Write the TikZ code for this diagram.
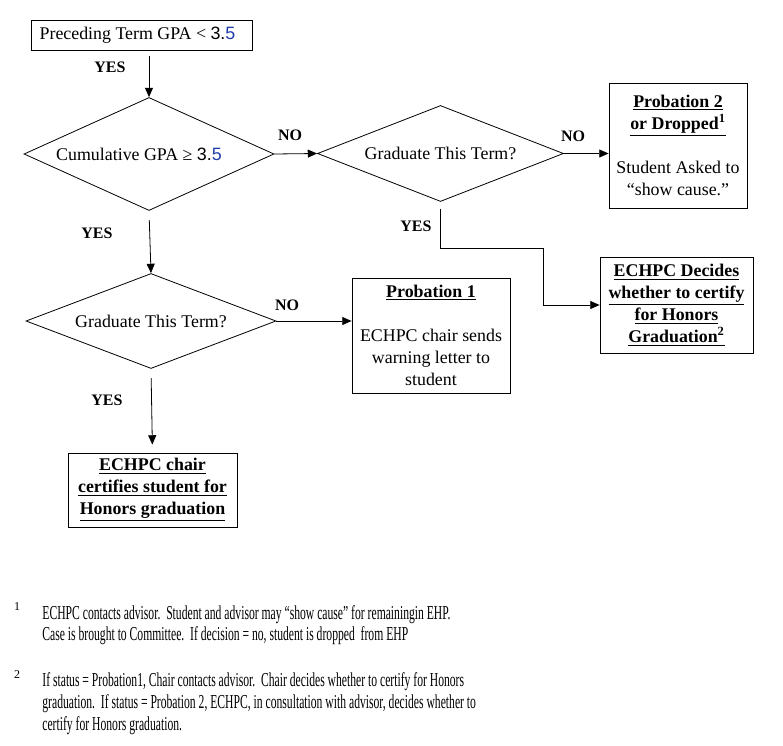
\documentclass[tikz,border=0pt]{standalone}
\usepackage{fontspec}
\setmainfont{Liberation Serif}
\newfontfamily\arialfont{Liberation Sans}
\newfontfamily\condfont[FakeStretch=0.59,Ligatures=TeX]{Liberation Serif}
\usetikzlibrary{shapes.geometric,arrows.meta}

\definecolor{fivecolor}{RGB}{30,60,170}
\newcommand{\gpanum}{{\arialfont 3.\textcolor{fivecolor}{5}}}
\newcommand{\fnmark}[1]{\smash{\textsuperscript{#1}}}

\tikzset{
  chart/.style={x=0.75pt,y=-0.75pt,line width=0.6pt,
    font=\fontsize{13.4}{16.5}\selectfont},
  boxnode/.style={draw,rectangle,align=center,inner sep=2pt},
  decision/.style={draw,diamond,inner sep=0pt,minimum width=187.5pt},
  answer/.style={font=\fontsize{12}{14}\selectfont\bfseries},
  arr/.style={-{Triangle[length=7pt,width=6pt]}},
  note/.style={anchor=north west,align=left,inner sep=0pt,
    font=\condfont\fontsize{14.8}{16}\selectfont}
}

\begin{document}
\begin{tikzpicture}[chart]

    % Fix the page size
    \useasboundingbox (0,0) rectangle (783,746);

    % Draw the first test
    \node[boxnode,minimum width=165.75pt,minimum height=22.5pt] (prec) at (141.5,35)
        {\hspace{-6pt}Preceding Term GPA < \gpanum};
    \node[decision,aspect=2.2,minimum height=84.75pt] (cum) at (149,154)
        {Cumulative GPA ≥ \gpanum\rule{15pt}{0pt}};

    % Draw the upper branch
    \node[decision,aspect=2.56,minimum width=184.5pt,minimum height=72pt] (gradA) at (440.5,153.5)
        {Graduate This Term?};
    \node[boxnode,minimum width=103.5pt,minimum height=93.75pt] (prob2) at (678,145.5)
        {\textbf{\underline{Probation 2}}\\\textbf{\underline{or Dropped\fnmark{1}}}\\[16.5pt]Student Asked to\\“show cause.”};
    \node[boxnode,minimum width=114.75pt,minimum height=72pt] (decide) at (676.5,305)
        {\textbf{\underline{ECHPC Decides}}\\\textbf{\underline{whether to certify}}\\\textbf{\underline{for Honors}}\\\textbf{\underline{Graduation\fnmark{2}}}};
    \coordinate (bend) at (543,248);

    % Draw the lower branch
    \node[decision,aspect=2.6,minimum height=71.25pt] (gradB) at (151,321)
        {Graduate This Term?};
    \node[boxnode,minimum width=118.5pt,minimum height=86.25pt] (prob1) at (431,335.5)
        {\textbf{\underline{Probation 1}}\\[16.5pt]ECHPC chair sends\\warning letter to\\student};
    \node[boxnode,minimum width=126.75pt,minimum height=55.5pt] (certify) at (152.5,490)
        {\textbf{\underline{ECHPC chair}}\\\textbf{\underline{certifies student for}}\\\textbf{\underline{Honors graduation}}};

    % Draw the connectors
    \draw[arr,shorten <=4pt] (prec.south -| cum.north) -- (cum.north);
    \draw[arr] (cum.east) -- (gradA.west);
    \draw[arr] (gradA.east) -- (gradA.east -| prob2.west);
    \draw[arr,shorten <=5pt] (gradA.south) |- (bend) |- (decide.west);
    \draw[arr,shorten <=7pt] (cum.south) -- (gradB.north);
    \draw[arr] (gradB.east) -- (gradB.east -| prob1.west);
    \draw[arr,shorten <=7pt,shorten >=6pt] (gradB.south) -- (certify.north);

    % Draw the answers
    \node[answer] (yes1) at (110,67) {YES};
    \node[answer] (no1) at (290,135) {NO};
    \node[answer] (yes2) at (97,233) {YES};
    \node[answer] (no2) at (573,136) {NO};
    \node[answer] (yes3) at (416,226) {YES};
    \node[answer] (no3) at (287,305) {NO};
    \node[answer] (yes4) at (107,400) {YES};

    % Finally the footnotes
    \node[font=\fontsize{9}{9}\selectfont] (mark1) at (17,607) {1};
    \node[note] (note1) at (42,605)
        {ECHPC contacts advisor.\ \ Student and advisor may “show cause” for remainingin EHP.\\
         Case is brought to Committee.\ \ If decision = no, student is dropped\ \ from EHP};
    \node[font=\fontsize{9}{9}\selectfont] (mark2) at (17,675) {2};
    \node[note,font=\condfont\fontsize{14.8}{16.5}\selectfont] (note2) at (42,672)
        {If status = Probation1, Chair contacts advisor.\ \ Chair decides whether to certify for Honors\\
         graduation.\ \ If status = Probation 2, ECHPC, in consultation with advisor, decides whether to\\
         certify for Honors graduation.};

\end{tikzpicture}
\end{document}
